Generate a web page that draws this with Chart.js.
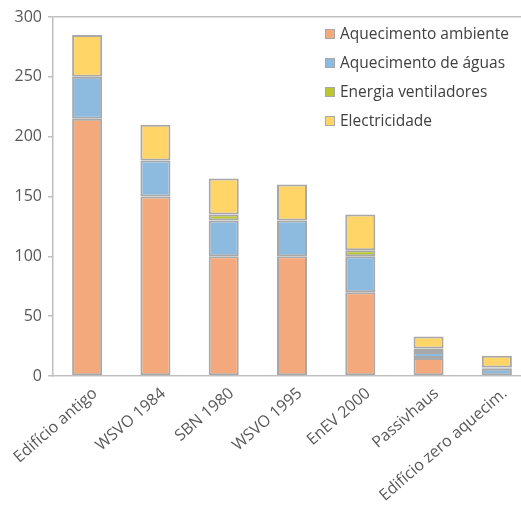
<!DOCTYPE html>
<html>
<head>
<meta charset="utf-8">
<script src="https://cdn.jsdelivr.net/npm/chart.js@4/dist/chart.umd.min.js"></script>
<style>
  html, body { margin: 0; padding: 0; background: #fff; overflow: hidden; }
  #wrap { width: 521px; height: 512px; overflow: hidden; position: relative; }
  #box { width: 540px; height: 512px; position: absolute; left: 0; top: 0; }
</style>
</head>
<body>
<div id="wrap"><div id="box"><canvas id="c"></canvas></div></div>
<script>
// Energy demand per building standard (kWh/m²a), stacked by use; null = no share
const categories = ['Edifício antigo', 'WSVO 1984', 'SBN 1980', 'WSVO 1995', 'EnEV 2000', 'Passivhaus', 'Edifício zero aquecim.'];
const aquecimentoAmbiente = [215, 150, 100, 100, 70, 15, null];
const aquecimentoAguas    = [35, 30, 30, 30, 30, 5, 6];
const energiaVentiladores = [null, null, 5, null, 5, 3, 1];
const electricidade       = [35, 30, 30, 30, 30, 10, 10];
const seriesNames = ['Aquecimento ambiente', 'Aquecimento de águas', 'Energia ventiladores', 'Electricidade'];
const yTicks = [0, 50, 100, 150, 200, 250, 300];

const colors = ['#F4A97C', '#8DBBE0', '#B9C82E', '#FFD568'];
const border = '#A8A8A8';
const FONT = '"Open Sans", sans-serif';

const seriesData = [aquecimentoAmbiente, aquecimentoAguas, energiaVentiladores, electricidade];
const datasets = seriesNames.map((name, i) => ({
  label: name,
  data: seriesData[i],
  backgroundColor: colors[i],
  borderColor: border,
  borderWidth: 2,
  borderSkipped: false,
  barPercentage: 0.44,
  categoryPercentage: 1.0
}));

// Legend drawn inside the plot, top right, as a vertical list
const insideLegend = {
  id: 'insideLegend',
  afterDraw(chart) {
    const ctx = chart.ctx;
    ctx.save();
    ctx.font = '15.5px ' + FONT;
    ctx.textBaseline = 'middle';
    ctx.textAlign = 'left';
    const x0 = 325, y0 = 34, step = 29, s = 10;
    chart.data.datasets.forEach((ds, i) => {
      const y = y0 + i * step;
      ctx.fillStyle = ds.backgroundColor;
      ctx.fillRect(x0, y - s / 2, s, s);
      ctx.strokeStyle = border;
      ctx.lineWidth = 1;
      ctx.strokeRect(x0 + 0.5, y - s / 2 + 0.5, s - 1, s - 1);
      ctx.fillStyle = '#404040';
      ctx.fillText(ds.label, x0 + 15, y + 1);
    });
    ctx.restore();
  }
};

new Chart(document.getElementById('c'), {
  type: 'bar',
  data: { labels: categories, datasets },
  plugins: [insideLegend],
  options: {
    responsive: true,
    maintainAspectRatio: false,
    animation: false,
    layout: { padding: { top: 17, right: 9, left: 0, bottom: 0 } },
    plugins: { legend: { display: false }, tooltip: { enabled: false } },
    scales: {
      x: {
        stacked: true,
        grid: { display: false },
        border: { display: true, color: '#BFBFBF', width: 1.5 },
        ticks: {
          color: '#595959',
          font: { family: FONT, size: 16 },
          minRotation: 41,
          maxRotation: 41,
          padding: 0,
          labelOffset: 8
        },
        afterFit(scale) { scale.height = 136; }
      },
      y: {
        stacked: true,
        min: 0,
        max: 300,
        afterBuildTicks(scale) { scale.ticks = yTicks.map(v => ({ value: v })); },
        grid: {
          drawOnChartArea: true,
          color: ctx => (ctx.tick && ctx.tick.value === 300) ? '#BFBFBF' : 'rgba(0,0,0,0)',
          lineWidth: 1.5,
          tickColor: '#BFBFBF',
          tickLength: 5
        },
        border: { display: true, color: '#BFBFBF', width: 1.5 },
        ticks: {
          color: '#595959',
          font: { family: FONT, size: 16 },
          padding: 6
        },
        afterFit(scale) { scale.width = 53; }
      }
    }
  }
});
</script>
</body>
</html>
